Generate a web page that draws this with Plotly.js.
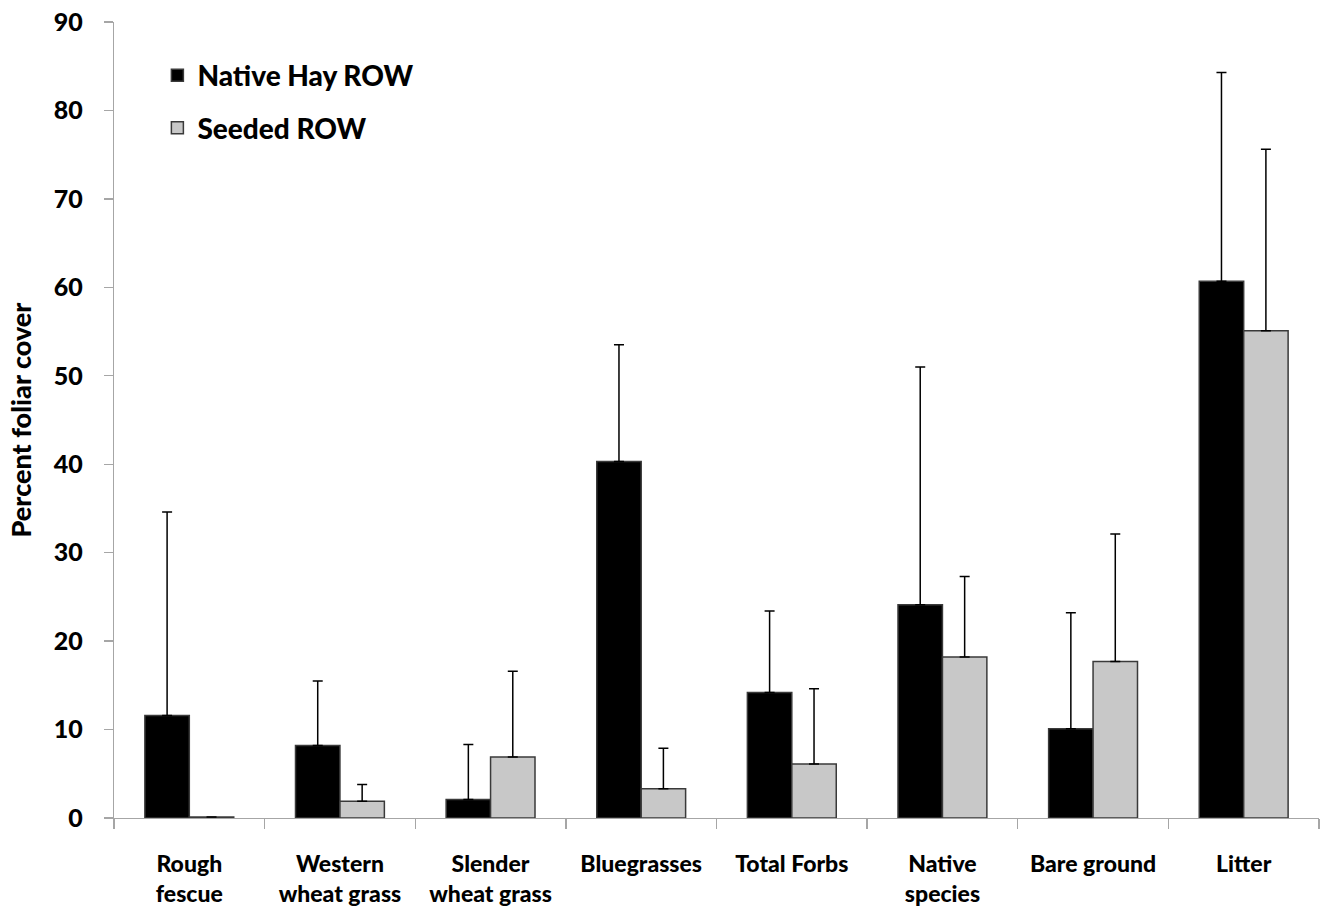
<!DOCTYPE html>
<html>
<head>
<meta charset="utf-8">
<script src="https://cdn.plot.ly/plotly-3.0.1.min.js"></script>
<style>html,body{margin:0;padding:0;background:#fff;}#chart{width:1322px;height:914px;}</style>
</head>
<body>
<div id="chart"></div>
<script>
const categories = ["Rough<br>fescue", "Western<br>wheat grass", "Slender<br>wheat grass", "Bluegrasses", "Total Forbs", "Native<br>species", "Bare ground", "Litter"];
const nativeHay = [11.6, 8.2, 2.1, 40.3, 14.2, 24.1, 10.1, 60.7];
const nativeHayErrTop = [34.6, 15.5, 8.3, 53.5, 23.4, 51.0, 23.2, 84.3];
const seeded = [0.1, 1.9, 6.9, 3.3, 6.1, 18.2, 17.7, 55.1];
const seededErrTop = [0.1, 3.8, 16.6, 7.9, 14.6, 27.3, 32.1, 75.6];
const yTicks = [0, 10, 20, 30, 40, 50, 60, 70, 80, 90];

const FONT = "Lato, 'Open Sans', sans-serif";

const errNative = nativeHayErrTop.map((t, i) => t - nativeHay[i]);
const errSeeded = seededErrTop.map((t, i) => Math.max(0, t - seeded[i]));

const traces = [
  {
    type: "bar", name: "Native Hay ROW", x: categories, y: nativeHay,
    legendgroup: "a",
    marker: {color: "#000000", line: {color: "#3a3a3a", width: 1.5}},
    error_y: {type: "data", symmetric: false, array: errNative, arrayminus: nativeHay.map(() => 0),
      color: "#000000", thickness: 1.5, width: 5, visible: true}
  },
  {
    type: "bar", name: "Seeded ROW", x: categories, y: seeded,
    legendgroup: "b",
    marker: {color: "#c8c8c8", line: {color: "#3a3a3a", width: 1.5}},
    error_y: {type: "data", symmetric: false, array: errSeeded, arrayminus: seeded.map(() => 0),
      color: "#000000", thickness: 1.5, width: 5, visible: true}
  }
];

const layout = {
  width: 1322, height: 914,
  margin: {l: 114, r: 3, t: 22, b: 96},
  paper_bgcolor: "#ffffff", plot_bgcolor: "#ffffff",
  barmode: "group", bargap: 0.41, bargroupgap: 0,
  font: {family: FONT, color: "#000000"},
  showlegend: true,
  legend: {
    x: 0.036, y: 0.964, xanchor: "left", yanchor: "top",
    font: {family: FONT, size: 28, color: "#000000", weight: 900},
    bgcolor: "rgba(0,0,0,0)", tracegroupgap: 13, itemwidth: 30
  },
  xaxis: {
    type: "category",
    showline: true, linecolor: "#a6a6a6", linewidth: 1.3,
    ticks: "outside", tickson: "boundaries", ticklen: 10, tickcolor: "#a6a6a6", tickwidth: 1.3,
    tickfont: {family: FONT, size: 23, color: "#000000", weight: 900},
    ticklabelstandoff: 25,
    showgrid: false, zeroline: false, fixedrange: true
  },
  yaxis: {
    range: [0, 90],
    tickvals: yTicks, ticktext: yTicks.map(String),
    showline: true, linecolor: "#a6a6a6", linewidth: 1.3,
    ticks: "outside", ticklen: 9, tickcolor: "#a6a6a6", tickwidth: 1.3,
    tickfont: {family: FONT, size: 25, color: "#000000", weight: 900},
    ticklabelstandoff: 16,
    showgrid: false, zeroline: false,
    title: {text: "Percent foliar cover", font: {family: FONT, size: 27, color: "#000000", weight: 900}, standoff: 14}
  }
};

Plotly.newPlot("chart", traces, layout, {displayModeBar: false, staticPlot: true});
</script>
</body>
</html>
